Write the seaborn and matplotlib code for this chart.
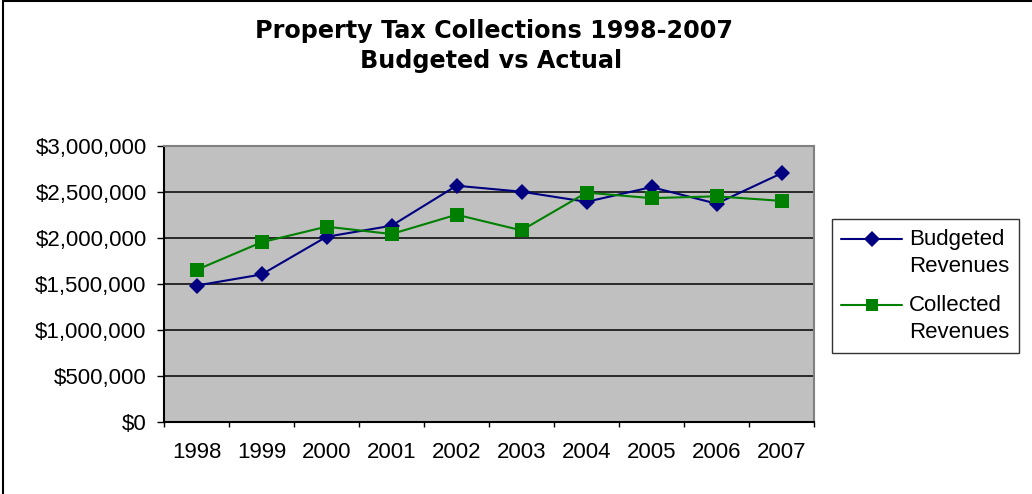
import matplotlib
matplotlib.use("Agg")
import matplotlib.pyplot as plt
from matplotlib.ticker import FuncFormatter, FixedLocator
from matplotlib.legend_handler import HandlerLine2D
from matplotlib.lines import Line2D
import seaborn as sns
import pandas as pd
import numpy as np

# Property tax collections by year
years = ["1998", "1999", "2000", "2001", "2002", "2003", "2004", "2005", "2006", "2007"]
budgeted = [1480000, 1600000, 2010000, 2130000, 2565000, 2500000, 2390000, 2550000, 2370000, 2700000]
collected = [1650000, 1950000, 2120000, 2040000, 2250000, 2080000, 2490000, 2430000, 2450000, 2400000]
series_names = ["Budgeted\nRevenues", "Collected\nRevenues"]
y_ticks = [0, 500000, 1000000, 1500000, 2000000, 2500000, 3000000]

df = pd.DataFrame({
    "pos": list(range(len(years))) * 2,
    "value": budgeted + collected,
    "series": [series_names[0]] * len(years) + [series_names[1]] * len(years),
})

sns.set_style("white")
plt.rcParams["font.family"] = ["Liberation Sans", "DejaVu Sans"]
plt.rcParams["text.color"] = "black"
plt.rcParams["xtick.color"] = "black"
plt.rcParams["ytick.color"] = "black"

fig = plt.figure(figsize=(10.32, 4.94), dpi=100)
ax = fig.add_axes([164 / 1032, 72.3 / 494, 650 / 1032, 276 / 494])
ax.set_facecolor("#C0C0C0")

palette = {series_names[0]: "#000080", series_names[1]: "#008000"}
markers = {series_names[0]: "D", series_names[1]: "s"}
sns.lineplot(data=df, x="pos", y="value", hue="series", style="series",
             palette=palette, markers=markers, dashes=False, linewidth=1.5,
             markersize=10, markeredgewidth=0, ax=ax, legend=False, zorder=3)
# diamonds slightly smaller than squares
for line in ax.get_lines():
    if line.get_marker() == "D":
        line.set_markersize(8.2)

ax.set_xlim(-0.5, len(years) - 0.5)
ax.set_ylim(0, 3000000)
ax.set_xlabel("")
ax.set_ylabel("")

# Year labels centred in each category, tick marks on category boundaries
ax.xaxis.set_major_locator(FixedLocator(np.arange(len(years))))
ax.set_xticklabels(years)
ax.xaxis.set_minor_locator(FixedLocator(np.arange(len(years) + 1) - 0.5))
ax.tick_params(axis="x", which="major", length=0, pad=14.5, labelsize=16,
               colors="black")
ax.tick_params(axis="x", which="minor", length=3.8, width=1, color="black", bottom=True)

ax.set_yticks(y_ticks)
ax.yaxis.set_major_formatter(FuncFormatter(lambda v, p: f"${v:,.0f}"))
ax.tick_params(axis="y", length=5, width=1, colors="black", pad=7.5, labelsize=16, left=True)

ax.grid(False)
for v in y_ticks[1:-1]:
    ax.axhline(v, color="black", linewidth=1.1, zorder=1)

ax.spines["left"].set_color("black")
ax.spines["bottom"].set_color("black")
ax.spines["top"].set_color("#808080")
ax.spines["right"].set_color("#808080")
for s in ax.spines.values():
    s.set_linewidth(1.5)
    s.set_visible(True)


class RaisedHandler(HandlerLine2D):
    def create_artists(self, legend, orig_handle, xdescent, ydescent,
                       width, height, fontsize, trans):
        return super().create_artists(legend, orig_handle, xdescent,
                                      ydescent - 21, width, height, fontsize, trans)


handles = [
    Line2D([], [], color="#000080", marker="D", markersize=8, markeredgewidth=0, linewidth=1.5),
    Line2D([], [], color="#008000", marker="s", markersize=8, markeredgewidth=0, linewidth=1.5),
]
leg = fig.legend(handles, series_names, loc="upper left",
                 bbox_to_anchor=(831.7 / 1032, (494 - 219.3) / 494),
                 borderaxespad=0,
                 frameon=True, fancybox=False, fontsize=16, handlelength=2.75,
                 handletextpad=0.32, labelspacing=0.78, borderpad=0.42,
                 handler_map={Line2D: RaisedHandler()})
for t in leg.get_texts():
    t.set_linespacing(1.42)
    t.set_color("black")
leg.get_frame().set_edgecolor("black")
leg.get_frame().set_linewidth(1.0)

title_font = ["DejaVu Sans"]
fig.text(494 / 1032, (494 - 38) / 494, "Property Tax Collections 1998-2007",
         ha="center", va="baseline", fontsize=17.2, fontweight="bold",
         family=title_font, color="black")
fig.text(491 / 1032, (494 - 68) / 494, "Budgeted vs Actual",
         ha="center", va="baseline", fontsize=17.2, fontweight="bold",
         family=title_font, color="black")

# chart frame
fig.add_artist(Line2D([2.5 / 1032, 2.5 / 1032], [0, 1 - 1.5 / 494], color="black", linewidth=1.5))
fig.add_artist(Line2D([2.5 / 1032, 1], [1 - 1.5 / 494, 1 - 1.5 / 494], color="black", linewidth=1.5))

fig.savefig("out.png", dpi=100)
